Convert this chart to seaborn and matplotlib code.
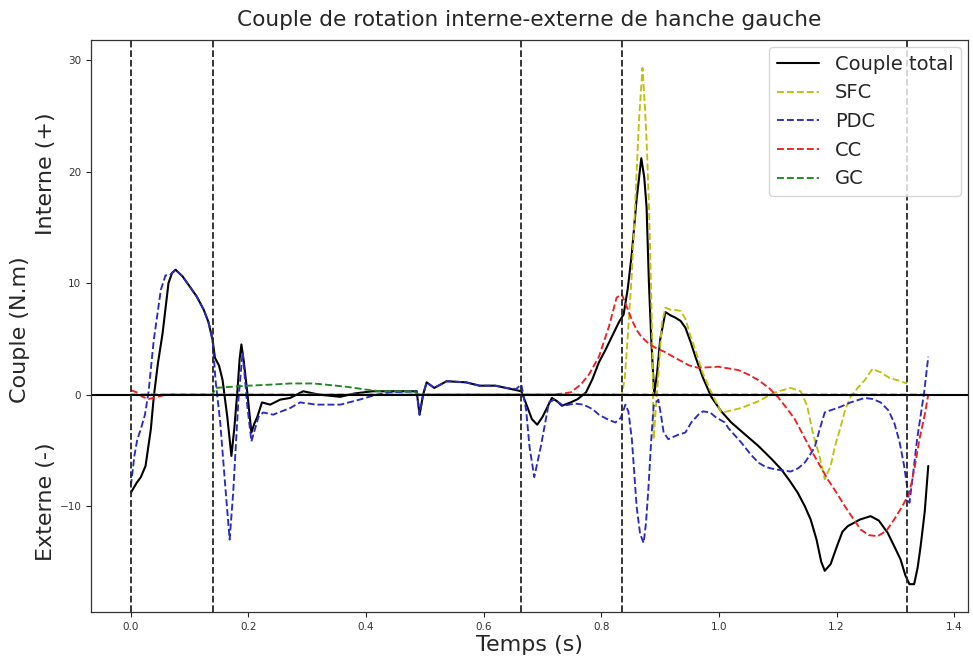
import matplotlib
matplotlib.use("Agg")
import matplotlib.pyplot as plt
import seaborn as sns

# Couple total (black)
t_total = [0.000, 0.010, 0.017, 0.025, 0.034, 0.039, 0.046, 0.054, 0.064, 0.070, 0.076,
           0.088, 0.100, 0.112, 0.124, 0.132, 0.139, 0.143, 0.150, 0.156, 0.164,
           0.171, 0.176, 0.181, 0.185, 0.188, 0.192, 0.198, 0.205, 0.210, 0.215,
           0.223, 0.230, 0.237, 0.254, 0.271, 0.293, 0.320, 0.356, 0.380, 0.411,
           0.440, 0.486, 0.491, 0.497, 0.503, 0.516, 0.537, 0.570, 0.593, 0.620,
           0.638, 0.664, 0.672, 0.682, 0.691, 0.700, 0.716, 0.725, 0.733, 0.748,
           0.760, 0.774, 0.785, 0.796, 0.807, 0.818, 0.830, 0.838, 0.845, 0.852,
           0.860, 0.868, 0.873, 0.877, 0.881, 0.885, 0.890, 0.895, 0.900, 0.909,
           0.918, 0.926, 0.935, 0.943, 0.952, 0.960, 0.973, 0.987, 1.004, 1.021,
           1.045, 1.067, 1.090, 1.106, 1.120, 1.134, 1.146, 1.156, 1.166, 1.174,
           1.180, 1.190, 1.200, 1.210, 1.219, 1.240, 1.258, 1.272, 1.287, 1.300,
           1.309, 1.317, 1.324, 1.332, 1.338, 1.343, 1.350, 1.356]
couple_total = [-8.8, -7.9, -7.4, -6.4, -3.1, -0.2, 2.8, 5.5, 10.0, 10.9, 11.2,
                10.6, 9.7, 8.8, 7.6, 6.5, 4.9, 3.3, 2.6, 1.3, -2.0,
                -5.5, -3.0, 0.2, 3.2, 4.5, 3.0, 0.2, -3.4, -2.6, -2.0,
                -0.7, -0.8, -0.9, -0.45, -0.3, 0.3, 0.0, -0.2, 0.1, 0.3,
                0.3, 0.3, -1.8, 0.0, 1.1, 0.6, 1.2, 1.1, 0.8, 0.8,
                0.6, 0.3, -0.8, -2.2, -2.7, -2.0, -0.3, -0.6, -1.0, -0.7,
                -0.4, 0.2, 1.4, 2.9, 4.0, 5.2, 6.5, 7.2, 9.5, 12.7,
                17.5, 21.2, 19.5, 16.8, 10.0, 4.9, 0.0, 2.0, 4.9, 7.4,
                7.1, 6.9, 6.6, 6.0, 4.7, 3.4, 1.5, -0.2, -1.5, -2.5,
                -3.6, -4.6, -5.8, -6.7, -7.7, -8.8, -10.0, -11.2, -13.0, -15.0,
                -15.8, -15.2, -13.7, -12.3, -11.8, -11.2, -10.9, -11.3, -12.4, -13.8,
                -14.8, -16.2, -17.0, -17.0, -15.5, -13.6, -10.5, -6.4]

# SFC (yellow)
t_sfc = [0.000, 0.835, 0.840, 0.846, 0.852, 0.858, 0.864, 0.870, 0.874, 0.877,
         0.881, 0.884, 0.887, 0.889, 0.893, 0.898, 0.903, 0.909, 0.918, 0.926,
         0.935, 0.943, 0.952, 0.960, 0.972, 0.987, 1.004, 1.015, 1.038, 1.067,
         1.095, 1.122, 1.139, 1.150, 1.160, 1.171, 1.180, 1.190, 1.198, 1.207,
         1.215, 1.224, 1.236, 1.248, 1.261, 1.275, 1.290, 1.303, 1.320]
sfc = [0.0, 0.0, 1.5, 6.0, 10.9, 17.5, 24.5, 29.3, 26.0, 22.8,
       17.0, 11.0, 4.0, -4.0, -1.0, 2.5, 6.4, 7.8, 7.6, 7.6,
       7.5, 6.8, 5.2, 4.0, 2.0, 0.2, -1.6, -1.5, -1.2, -0.6,
       0.2, 0.6, 0.3, -1.0, -3.5, -5.5, -7.6, -6.4, -4.5, -2.9,
       -1.3, -0.2, 0.6, 1.3, 2.3, 2.0, 1.5, 1.3, 1.0]

# PDC (blue)
t_pdc = [0.000, 0.006, 0.011, 0.017, 0.024, 0.030, 0.039, 0.051, 0.059, 0.066, 0.076,
         0.088, 0.100, 0.112, 0.124, 0.132, 0.139, 0.144, 0.152, 0.161, 0.168,
         0.174, 0.183, 0.190, 0.198, 0.205, 0.217, 0.225, 0.242, 0.271, 0.288,
         0.316, 0.356, 0.389, 0.418, 0.440, 0.486, 0.491, 0.497, 0.503, 0.516,
         0.537, 0.570, 0.593, 0.620, 0.638, 0.655, 0.664, 0.672, 0.678, 0.686,
         0.697, 0.711, 0.720, 0.736, 0.755, 0.770, 0.785, 0.796, 0.810, 0.824,
         0.833, 0.841, 0.846, 0.852, 0.860, 0.866, 0.872, 0.876, 0.880, 0.885,
         0.889, 0.897, 0.902, 0.906, 0.914, 0.922, 0.931, 0.943, 0.953, 0.965,
         0.973, 0.985, 0.994, 1.010, 1.016, 1.038, 1.053, 1.067, 1.080, 1.095,
         1.122, 1.135, 1.146, 1.155, 1.163, 1.172, 1.180, 1.190, 1.202, 1.224,
         1.248, 1.262, 1.275, 1.288, 1.298, 1.307, 1.315, 1.324, 1.330, 1.337,
         1.349, 1.356]
pdc = [-8.2, -5.5, -4.0, -3.1, -1.8, 0.2, 4.9, 9.4, 10.7, 10.7, 11.2,
       10.6, 9.7, 8.8, 7.6, 6.5, 4.9, 1.3, -2.5, -8.5, -13.0,
       -8.8, -0.4, 3.8, -1.0, -4.2, -2.0, -1.6, -1.8, -1.2, -0.7,
       -0.9, -0.9, -0.45, 0.0, 0.2, 0.3, -1.8, 0.0, 1.1, 0.6,
       1.2, 1.1, 0.8, 0.8, 0.6, 0.5, 0.9, -1.3, -4.7, -7.4,
       -4.7, -0.7, -0.45, -1.0, -0.8, -0.9, -1.3, -1.8, -2.2, -2.5,
       -2.1, -0.9, -1.5, -4.0, -10.0, -12.5, -13.3, -11.5, -8.5, -4.0,
       -1.0, -0.45, -2.0, -3.4, -4.0, -3.8, -3.6, -3.4, -2.5, -1.8,
       -1.5, -1.6, -2.0, -2.5, -3.0, -4.3, -5.3, -6.1, -6.5, -6.7,
       -6.9, -6.6, -6.1, -5.4, -4.7, -3.0, -1.6, -1.4, -1.2, -0.7,
       -0.3, -0.4, -0.7, -1.4, -2.5, -4.2, -6.4, -9.7, -7.2, -4.0,
       0.2, 3.4]

# CC (red)
t_cc = [0.000, 0.010, 0.020, 0.030, 0.045, 0.060, 0.690, 0.720, 0.748, 0.765,
        0.779, 0.796, 0.813, 0.826, 0.835, 0.843, 0.852, 0.860, 0.868, 0.880,
        0.892, 0.909, 0.922, 0.936, 0.950, 0.965, 0.999, 1.033, 1.050, 1.067,
        1.085, 1.100, 1.115, 1.129, 1.142, 1.156, 1.170, 1.185, 1.200, 1.214,
        1.228, 1.241, 1.255, 1.270, 1.285, 1.298, 1.312, 1.324, 1.333, 1.341,
        1.350, 1.356]
cc = [0.4, 0.2, -0.2, -0.4, -0.2, 0.0, 0.0, 0.0, 0.2, 0.9,
      1.8, 3.4, 6.1, 8.7, 9.0, 7.9, 6.7, 5.8, 5.2, 4.6,
      4.2, 3.8, 3.4, 3.0, 2.6, 2.4, 2.5, 2.2, 1.8, 1.3,
      0.6, -0.2, -1.2, -2.2, -3.5, -4.9, -6.2, -7.6, -8.8, -10.0,
      -11.1, -12.1, -12.6, -12.7, -12.2, -11.2, -10.0, -8.8, -6.5, -4.0,
      -1.8, 0.0]

# GC (green)
t_gc = [0.000, 0.139, 0.144, 0.170, 0.200, 0.240, 0.271, 0.310, 0.340, 0.367,
        0.400, 0.423, 0.480, 0.490, 1.356]
gc = [0.0, 0.0, 0.6, 0.7, 0.8, 0.9, 1.0, 1.0, 0.85, 0.7,
      0.45, 0.3, 0.3, 0.0, 0.0]

events = [0.0, 0.1405, 0.6636, 0.8346, 1.3205]

sns.set_style("ticks")
plt.rcParams['font.family'] = ['DejaVu Sans']

fig = plt.figure(figsize=(9.73, 6.56), dpi=100)
ax = fig.add_axes([0.0935, 0.067, 0.9015, 0.872])

sns.lineplot(x=t_total, y=couple_total, color='k', linewidth=1.5, label='Couple total', ax=ax)
sns.lineplot(x=t_sfc, y=sfc, color='#c0c010', linestyle='--', linewidth=1.35, label='SFC', ax=ax)
sns.lineplot(x=t_pdc, y=pdc, color='#2b2bc4', linestyle='--', linewidth=1.35, label='PDC', ax=ax)
sns.lineplot(x=t_cc, y=cc, color='#ee2020', linestyle='--', linewidth=1.35, label='CC', ax=ax)
sns.lineplot(x=t_gc, y=gc, color='#1f8a1f', linestyle='--', linewidth=1.35, label='GC', ax=ax)

ax.axhline(0, color='k', linewidth=1.5)
for ev in events:
    ax.axvline(ev, color='0.15', linestyle='--', linewidth=1.3)

ax.set_xlim(-0.0678, 1.4238)
ax.set_ylim(-19.5, 31.8)
ax.set_yticks([-10, 0, 10, 20, 30])
ax.tick_params(labelsize=7.5, length=3.5, width=0.8, labelcolor='0.2')
for sp in ax.spines.values():
    sp.set_color('0.2')
    sp.set_linewidth(0.9)

ax.set_title('Couple de rotation interne-externe de hanche gauche', fontsize=15.6, pad=10)
ax.set_xlabel('Temps (s)', fontsize=16, labelpad=2)
ax.set_ylabel('')
fig.text(0.021, 0.497, 'Couple (N.m)', rotation=90, fontsize=16, ha='center', va='center')
fig.text(0.047, 0.735, 'Interne (+)', rotation=90, fontsize=16, ha='center', va='center')
fig.text(0.047, 0.235, 'Externe (-)', rotation=90, fontsize=16, ha='center', va='center')

ax.legend(loc='upper right', fontsize=14, labelspacing=0.5, handlelength=2.2,
          borderaxespad=0.35)

fig.savefig('out.png', dpi=100)
